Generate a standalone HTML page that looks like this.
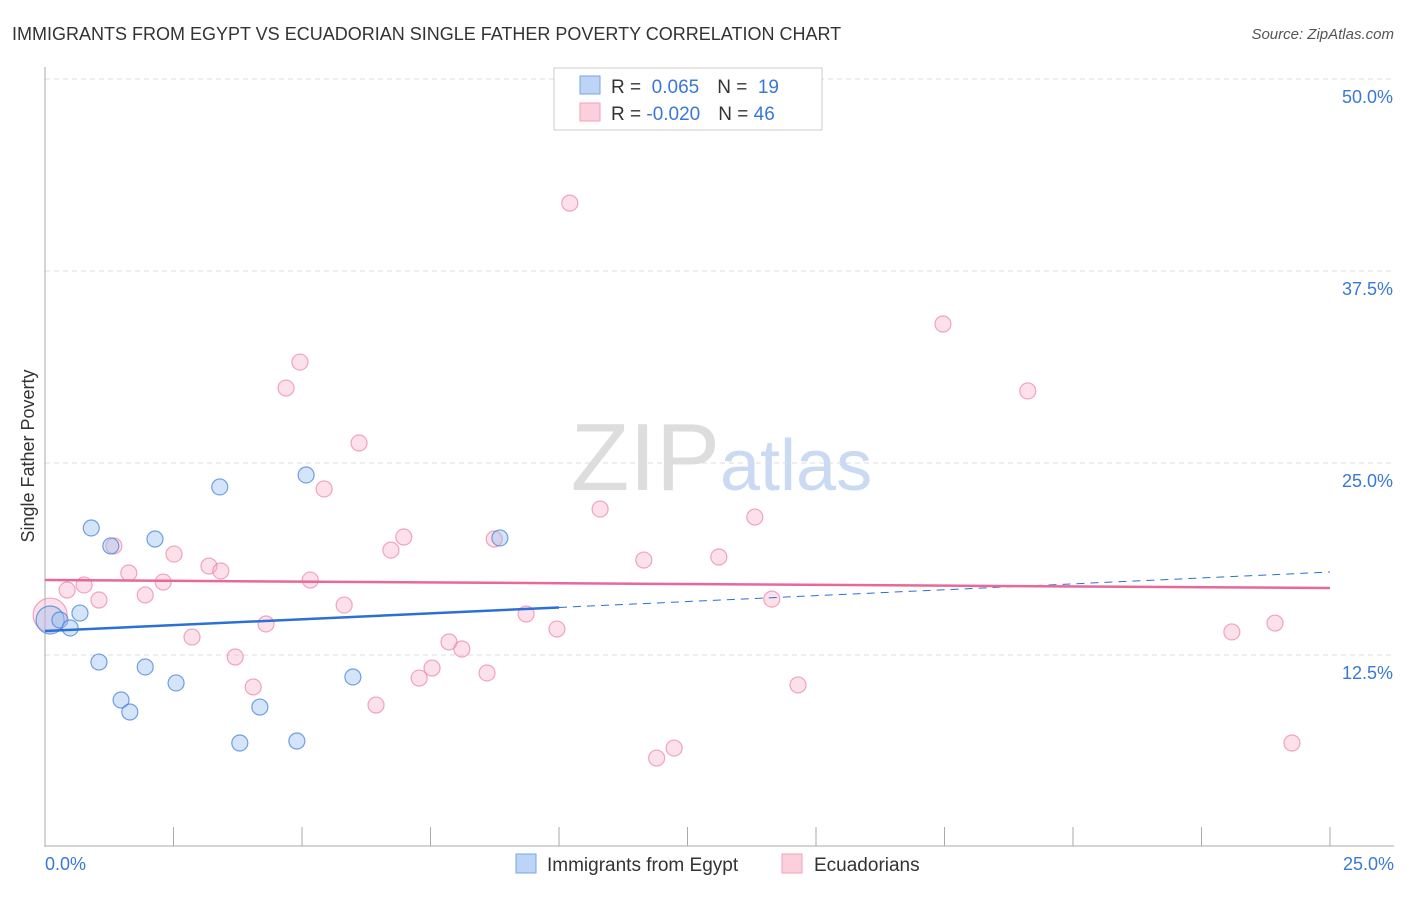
<!DOCTYPE html>
<html><head><meta charset="utf-8"><style>
body{margin:0;background:#fff;font-family:"Liberation Sans",sans-serif;}
svg text{font-family:"Liberation Sans",sans-serif;}
</style></head><body>
<svg width="1406" height="892">
<text x="12" y="40" font-size="18" fill="#333">IMMIGRANTS FROM EGYPT VS ECUADORIAN SINGLE FATHER POVERTY CORRELATION CHART</text>
<text x="1394" y="39" font-size="15" fill="#555" font-style="italic" text-anchor="end">Source: ZipAtlas.com</text>
<text x="34" y="456" font-size="18" fill="#333" transform="rotate(-90 34 456)" text-anchor="middle">Single Father Poverty</text>
<text x="720" y="490" font-size="96" fill="#ddd" text-anchor="end" font-family="Liberation Serif">ZIP</text>
<text x="720" y="490" font-size="72" fill="#c9daf2">atlas</text>
<g id="grid"></g><g id="axes"></g><g id="pts"></g><g id="lines"></g>
<g>
<rect x="554" y="68" width="268" height="62" fill="#fff" stroke="#ccc"/>
<rect x="580" y="76" width="20" height="18" fill="#bcd4f5" stroke="#7aa6e6"/>
<rect x="580" y="103" width="20" height="18" fill="#fbd0dc" stroke="#f0a0b8"/>
<text x="611" y="93" font-size="19" fill="#333">R = <tspan fill="#3a78d8">&#160;0.065</tspan><tspan dx="18">N = </tspan><tspan fill="#3a78d8">&#160;19</tspan></text>
<text x="611" y="120" font-size="19" fill="#333">R = <tspan fill="#3a78d8">-0.020</tspan><tspan dx="18">N = </tspan><tspan fill="#3a78d8">46</tspan></text>
</g>
<g>
<rect x="516" y="854" width="20" height="19" fill="#bcd4f5" stroke="#7aa6e6"/>
<text x="547" y="871" font-size="19" fill="#333">Immigrants from Egypt</text>
<rect x="782" y="854" width="20" height="19" fill="#fbd0dc" stroke="#f0a0b8"/>
<text x="814" y="871" font-size="19" fill="#333">Ecuadorians</text>
</g>
</svg>
<script>
const yTicks=[12.5,25,37.5,50];
const yTickLabels=["12.5%","25.0%","37.5%","50.0%"];
const xTickLabels=["0.0%","25.0%"];
const egyptX=[0.10,0.29,0.49,0.68,0.90,1.05,1.28,1.48,1.65,1.95,2.14,2.55,3.40,3.79,4.18,4.90,5.08,5.99,8.85];
const egyptY=[14.78,14.78,14.26,15.23,20.77,12.04,19.6,9.57,8.79,11.72,20.05,10.68,23.44,6.77,9.11,6.90,24.22,11.07,20.12];
const ecuX=[0.10,0.43,0.76,1.05,1.34,1.63,1.95,2.30,2.51,2.86,3.19,3.42,3.70,4.05,4.30,4.69,4.96,5.16,5.43,5.82,6.11,6.44,6.73,6.98,7.28,7.53,7.86,8.11,8.60,8.74,9.36,9.96,10.21,10.80,11.65,11.90,12.24,13.11,13.81,14.14,14.65,17.47,19.12,23.09,23.93,24.26];
const ecuY=[15.10,16.73,17.06,16.08,19.60,17.84,16.41,17.25,19.07,13.67,18.29,17.97,12.37,10.42,14.52,29.88,31.57,17.38,23.31,15.75,26.30,9.24,19.33,20.18,11.00,11.65,13.35,12.89,11.33,20.05,15.17,14.19,41.92,22.00,18.68,5.79,6.44,18.88,21.48,16.14,10.55,34.05,29.69,14.00,14.58,6.77];
const egyptTrend=[14.06,17.9]; const egyptSolidEnd=10;
const ecuTrend=[17.38,16.86];
const X=v=>45+v/25*1285, Y=v=>847-v/12.5*192;
const NS="http://www.w3.org/2000/svg";
function mk(p,t,a){const e=document.createElementNS(NS,t);for(const k in a)e.setAttribute(k,a[k]);document.getElementById(p).appendChild(e);return e;}
yTicks.forEach((t,i)=>{
 const l=mk('grid','line',{x1:45,x2:1394,y1:Y(t),y2:Y(t),stroke:'#ddd','stroke-dasharray':'5,4'});
 
 
 const tx=mk('grid','text',{x:1393,y:Y(t)+24,'font-size':18,fill:'#3a78d8','text-anchor':'end'});tx.textContent=yTickLabels[i];
 
 
});
mk('axes','line',{x1:45,x2:45,y1:67,y2:847,stroke:'#aaa'});
mk('axes','line',{x1:45,x2:1394,y1:846,y2:846,stroke:'#aaa'});
for(let i=0;i<=10;i++){const t=mk('axes','line',{x1:X(i*2.5),x2:X(i*2.5),y1:827,y2:846,stroke:'#aaa'});
 
 }
const xl0=mk('axes','text',{x:45,y:870,'font-size':18,fill:'#3a78d8'});xl0.textContent=xTickLabels[0];


const xl1=mk('axes','text',{x:1394,y:870,'font-size':18,fill:'#3a78d8','text-anchor':'end'});xl1.textContent=xTickLabels[1];


ecuX.forEach((x,i)=>{const c=mk('pts','circle',{cx:X(x),cy:Y(ecuY[i]),r:i==0?17:8,fill:'rgba(246,170,195,0.35)',stroke:'rgba(236,130,165,0.7)','stroke-width':1.2});
 
 });
egyptX.forEach((x,i)=>{const c=mk('pts','circle',{cx:X(x),cy:Y(egyptY[i]),r:i==0?14:8,fill:'rgba(150,190,240,0.4)',stroke:'rgba(70,130,220,0.75)','stroke-width':1.2});
 
 });
const yb=x=>egyptTrend[0]+(egyptTrend[1]-egyptTrend[0])*x/25;
const b1=mk('lines','line',{x1:X(0),y1:Y(yb(0)),x2:X(egyptSolidEnd),y2:Y(yb(egyptSolidEnd)),stroke:'#2c6fd6','stroke-width':2.5});


const b2=mk('lines','line',{x1:X(egyptSolidEnd),y1:Y(yb(egyptSolidEnd)),x2:X(25),y2:Y(yb(25)),stroke:'#2c6fd6','stroke-width':1,'stroke-dasharray':'8,6'});


const p1=mk('lines','line',{x1:X(0),y1:Y(ecuTrend[0]),x2:X(25),y2:Y(ecuTrend[1]),stroke:'#e8689a','stroke-width':2.5});


</script>
</body></html>
